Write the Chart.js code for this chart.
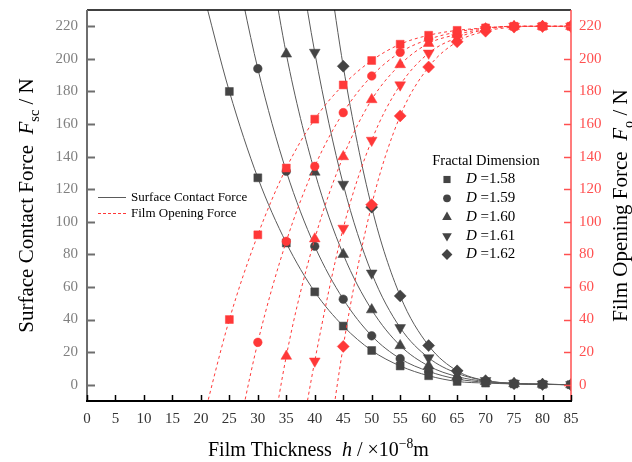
<!DOCTYPE html>
<html>
<head>
<meta charset="utf-8">
<script src="https://cdn.jsdelivr.net/npm/chart.js@4/dist/chart.umd.min.js"></script>
<style>
  html, body { margin: 0; padding: 0; background: #fff; }
  #wrap { width: 632px; height: 462px; position: relative; }
</style>
</head>
<body>
<div id="wrap"><canvas id="c"></canvas></div>
<script>
// Film thickness h (x 10^-8 m) shared by every series
const thickness = [20, 25, 30, 35, 40, 45, 50, 55, 60, 65, 70, 75, 80, 85];
const xTicks = [0, 5, 10, 15, 20, 25, 30, 35, 40, 45, 50, 55, 60, 65, 70, 75, 80, 85];
const forceTicks = [0, 20, 40, 60, 80, 100, 120, 140, 160, 180, 200, 220];

// Fractal dimension of each curve pair
const fractalD = ['1.58', '1.59', '1.60', '1.61', '1.62'];

// Surface contact force F_sc (N); the first values leave the top of the axis
const contact158 = [246, 180, 127, 87, 57, 36, 21, 11.5, 5.5, 2, 1, 0.5, 0.2, 0];
const contact159 = [null, 276, 194, 131, 85, 52.5, 30, 16, 8.2, 3.5, 1.5, 0.5, 0.2, 0];
const contact160 = [null, null, 307, 203, 130.5, 80, 46, 24, 11.5, 5, 2, 0.7, 0.3, 0];
const contact161 = [null, null, null, 312, 204, 123, 68.5, 35, 16.5, 7, 2.5, 0.8, 0.3, 0];
const contact162 = [null, null, null, null, 318, 195.5, 109, 54.5, 24, 8.5, 2.5, 0.8, 0.3, 0];

// Film opening force F_o (N); the first values fall below the bottom of the axis
const opening158 = [-27, 40, 92, 133, 163, 184, 199, 209, 214.5, 217.5, 219, 220, 220, 220];
const opening159 = [null, -56, 26, 88, 134, 167, 189.5, 204, 212, 216.5, 219, 220, 220, 220];
const opening160 = [null, null, -88, 17.5, 89.5, 140, 175, 196.5, 209.5, 215, 218.5, 220, 220, 220];
const opening161 = [null, null, null, -86, 14.5, 96, 150, 184, 203.5, 213, 218, 220, 220, 220];
const opening162 = [null, null, null, null, -100, 23.5, 110.5, 165, 195, 210.5, 217, 219.5, 220, 220];

const contactSeries = [contact158, contact159, contact160, contact161, contact162];
const openingSeries = [opening158, opening159, opening160, opening161, opening162];

const markerStyles = [
  { pointStyle: 'rect', radius: 5.6, rotation: 0 },
  { pointStyle: 'circle', radius: 4.3, rotation: 0 },
  { pointStyle: 'triangle', radius: 6.2, rotation: 0 },
  { pointStyle: 'triangle', radius: 6.2, rotation: 180 },
  { pointStyle: 'rectRot', radius: 6, rotation: 0 }
];

const GREY = '#444444';
const GREY_LINE = '#5a5a5a';
const RED = '#ff3838';
const RED_AXIS = '#ff5050';
const SERIF = '"Liberation Serif", "Times New Roman", serif';

function toPoints(values) {
  const pts = [];
  values.forEach((v, i) => { if (v !== null) pts.push({ x: thickness[i], y: v }); });
  return pts;
}

const datasets = [];
contactSeries.forEach((vals, i) => {
  const m = markerStyles[i];
  datasets.push({
    label: 'Surface Contact Force D=' + fractalD[i],
    data: toPoints(vals),
    yAxisID: 'y',
    order: 2,
    borderColor: GREY_LINE,
    borderWidth: 1,
    backgroundColor: GREY,
    pointBackgroundColor: GREY,
    pointBorderColor: GREY,
    pointBorderWidth: 0.5,
    pointStyle: m.pointStyle,
    pointRadius: m.radius,
    pointRotation: m.rotation,
    cubicInterpolationMode: 'monotone',
    fill: false
  });
});
openingSeries.forEach((vals, i) => {
  const m = markerStyles[i];
  datasets.push({
    label: 'Film Opening Force D=' + fractalD[i],
    data: toPoints(vals),
    yAxisID: 'y2',
    order: 1,
    borderColor: RED,
    borderWidth: 1,
    borderDash: [3, 3],
    backgroundColor: RED,
    pointBackgroundColor: RED,
    pointBorderColor: RED,
    pointBorderWidth: 0.5,
    pointStyle: m.pointStyle,
    pointRadius: m.radius,
    pointRotation: m.rotation,
    cubicInterpolationMode: 'monotone',
    fill: false
  });
});

// Draws a run of text pieces (italic / subscript / superscript) starting at x
function measureRich(ctx, parts, size) {
  let w = 0;
  parts.forEach(p => {
    const s = (p.sub || p.sup) ? size * 0.68 : size;
    ctx.font = (p.italic ? 'italic ' : '') + s + 'px ' + SERIF;
    w += ctx.measureText(p.t).width;
  });
  return w;
}
function drawRich(ctx, parts, x, y, size) {
  ctx.textAlign = 'left';
  ctx.textBaseline = 'alphabetic';
  parts.forEach(p => {
    const s = (p.sub || p.sup) ? size * 0.68 : size;
    ctx.font = (p.italic ? 'italic ' : '') + s + 'px ' + SERIF;
    let dy = 0;
    if (p.sub) dy = size * 0.28;
    if (p.sup) dy = -size * 0.42;
    ctx.fillText(p.t, x, y + dy);
    x += ctx.measureText(p.t).width;
  });
}
function drawRichMiddle(ctx, parts, x, y, size) {
  ctx.textAlign = 'left';
  ctx.textBaseline = 'middle';
  parts.forEach(p => {
    ctx.font = (p.italic ? 'italic ' : '') + size + 'px ' + SERIF;
    ctx.fillText(p.t, x, y);
    x += ctx.measureText(p.t).width;
  });
}

const yTitle = [
  { t: 'Surface Contact Force  ' }, { t: 'F', italic: true }, { t: 'sc', sub: true }, { t: ' / N' }
];
const y2Title = [
  { t: 'Film Opening Force  ' }, { t: 'F', italic: true }, { t: 'o', sub: true }, { t: ' / N' }
];
const xTitle = [
  { t: 'Film Thickness  ' }, { t: 'h', italic: true }, { t: ' / \u00d710' }, { t: '\u22128', sup: true }, { t: 'm' }
];

const framePlugin = {
  id: 'frame',
  afterDatasetsDraw(chart) {
    const ctx = chart.ctx;
    const a = chart.chartArea;
    const xs = chart.scales.x, ys = chart.scales.y, y2s = chart.scales.y2;
    ctx.save();
    // top border
    ctx.strokeStyle = '#000';
    ctx.lineWidth = 1.5;
    ctx.beginPath(); ctx.moveTo(a.left, a.top); ctx.lineTo(a.right, a.top); ctx.stroke();
    // left axis
    ctx.strokeStyle = '#6e6e6e';
    ctx.lineWidth = 2;
    ctx.beginPath(); ctx.moveTo(a.left, a.top); ctx.lineTo(a.left, a.bottom); ctx.stroke();
    forceTicks.forEach(v => {
      const py = Math.round(ys.getPixelForValue(v)) + 0.5;
      ctx.beginPath(); ctx.moveTo(a.left, py); ctx.lineTo(a.left + 8, py); ctx.stroke();
    });
    // right axis
    ctx.strokeStyle = RED_AXIS;
    ctx.lineWidth = 1.5;
    ctx.beginPath(); ctx.moveTo(a.right, a.top); ctx.lineTo(a.right, a.bottom); ctx.stroke();
    forceTicks.forEach(v => {
      const py = Math.round(y2s.getPixelForValue(v)) + 0.5;
      ctx.beginPath(); ctx.moveTo(a.right, py); ctx.lineTo(a.right - 7, py); ctx.stroke();
    });
    // bottom axis
    ctx.strokeStyle = '#000';
    ctx.lineWidth = 2;
    ctx.beginPath(); ctx.moveTo(a.left - 1, a.bottom); ctx.lineTo(a.right + 1, a.bottom); ctx.stroke();
    ctx.lineWidth = 1.5;
    xTicks.forEach(v => {
      const px = Math.round(xs.getPixelForValue(v)) + 0.5;
      ctx.beginPath(); ctx.moveTo(px, a.bottom); ctx.lineTo(px, a.bottom - 6); ctx.stroke();
    });

    // axis titles
    const cy = (a.top + a.bottom) / 2;
    ctx.fillStyle = '#000';
    let w = measureRich(ctx, yTitle, 21);
    ctx.save(); ctx.translate(33, cy); ctx.rotate(-Math.PI / 2);
    drawRich(ctx, yTitle, -w / 2, 0, 21); ctx.restore();
    w = measureRich(ctx, y2Title, 21);
    ctx.save(); ctx.translate(627, cy); ctx.rotate(-Math.PI / 2);
    drawRich(ctx, y2Title, -w / 2, 0, 21); ctx.restore();
    drawRich(ctx, xTitle, 208, 456, 20);

    // line-type legend
    ctx.lineWidth = 1;
    ctx.strokeStyle = GREY_LINE;
    ctx.beginPath(); ctx.moveTo(98, 197.5); ctx.lineTo(126, 197.5); ctx.stroke();
    ctx.strokeStyle = RED;
    ctx.setLineDash([3, 2]);
    ctx.beginPath(); ctx.moveTo(98, 213.5); ctx.lineTo(126, 213.5); ctx.stroke();
    ctx.setLineDash([]);
    ctx.fillStyle = '#000';
    ctx.font = '13px ' + SERIF;
    ctx.textAlign = 'left';
    ctx.textBaseline = 'middle';
    ctx.fillText('Surface Contact Force', 131, 197.5);
    ctx.fillText('Film Opening Force', 131, 213.5);

    // fractal dimension legend
    ctx.font = '14.5px ' + SERIF;
    ctx.textAlign = 'center';
    ctx.fillText('Fractal Dimension', 486, 161.5);
    const rows = [179.5, 198.3, 217.2, 236, 254.5];
    fractalD.forEach((d, i) => {
      const m = markerStyles[i];
      ctx.fillStyle = GREY;
      ctx.strokeStyle = GREY;
      Chart.helpers.drawPoint(ctx, {
        pointStyle: m.pointStyle, radius: m.radius * 0.9, rotation: m.rotation, borderWidth: 0
      }, 447, rows[i]);
      ctx.fillStyle = '#000';
      drawRichMiddle(ctx, [{ t: 'D', italic: true }, { t: ' =' + d }], 466, rows[i], 15);
    });
    ctx.restore();
  }
};

// Fixed axis bands so the plot area sits at the same place whatever the labels measure
function fixBand(size, horizontal) {
  return s => {
    if (horizontal) { s.height = size; s.paddingLeft = 0; s.paddingRight = 0; }
    else { s.width = size; s.paddingTop = 0; s.paddingBottom = 0; }
  };
}

new Chart(document.getElementById('c'), {
  type: 'line',
  data: { datasets },
  options: {
    responsive: true,
    maintainAspectRatio: false,
    animation: false,
    layout: { padding: { top: 10, left: 0, right: 0, bottom: 0 } },
    plugins: { legend: { display: false }, tooltip: { enabled: false } },
    scales: {
      x: {
        type: 'linear',
        min: 0, max: 85,
        afterBuildTicks: s => { s.ticks = xTicks.map(v => ({ value: v })); },
        afterFit: fixBand(61, true),
        grid: { display: false, drawTicks: false },
        border: { display: false },
        ticks: { color: '#333', padding: 9, font: { family: SERIF, size: 15 }, maxRotation: 0, autoSkip: false }
      },
      y: {
        type: 'linear', position: 'left',
        min: -10, max: 230,
        afterBuildTicks: s => { s.ticks = forceTicks.map(v => ({ value: v })); },
        afterFit: fixBand(87, false),
        grid: { display: false, drawTicks: false },
        border: { display: false },
        ticks: { color: '#808080', padding: 9, font: { family: SERIF, size: 15 } }
      },
      y2: {
        type: 'linear', position: 'right',
        min: -10, max: 230,
        afterBuildTicks: s => { s.ticks = forceTicks.map(v => ({ value: v })); },
        afterFit: fixBand(61, false),
        grid: { display: false, drawTicks: false },
        border: { display: false },
        ticks: { color: RED_AXIS, padding: 8, font: { family: SERIF, size: 15 } }
      }
    }
  },
  plugins: [framePlugin]
});
</script>
</body>
</html>
